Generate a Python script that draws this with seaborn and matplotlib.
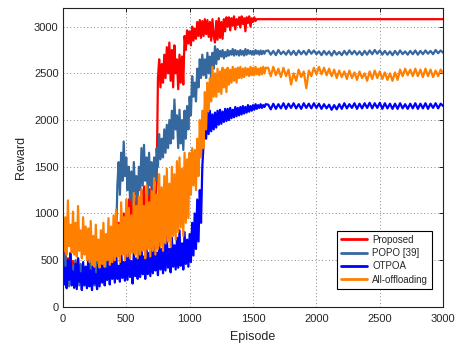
import numpy as np
import pandas as pd
import matplotlib
matplotlib.use("Agg")
import matplotlib.pyplot as plt
import seaborn as sns

# Episode sampling: every 10 episodes up to 1600, every 20 afterwards
episodes = list(range(0, 1610, 10)) + list(range(1620, 3001, 20))

labels = ["Proposed", "POPO [39]", "OTPOA", "All-offloading"]
colors = ["#ff0000", "#35689f", "#0000ff", "#ff8000"]

proposed = [
    560,420,600,380,520,450,580,400,490,360,
    480,330,520,300,450,280,400,250,380,230,
    420,260,370,220,350,240,330,210,360,250,
    450,320,520,380,600,430,680,500,720,560,
    780,600,850,640,900,700,950,720,1000,760,
    1050,800,1150,850,1220,880,1100,820,1180,900,
    1150,880,1250,920,1290,950,1200,900,1260,980,
    1300,1000,1250,1050,1350,2450,2650,2350,2600,2400,
    2700,2450,2780,2500,2830,2420,2750,2350,2800,2500,
    2650,2330,2700,2400,2680,2380,2900,2750,2960,2820,
    2950,2800,3000,2850,2980,2870,3050,2900,3070,2880,
    3060,2900,3080,2920,3070,2890,3050,2850,3080,2900,
    2830,3060,2860,3090,2880,3050,2870,3080,2950,3100,
    3000,3100,2960,3090,3010,3110,2970,3080,3020,3100,
    2990,3110,3030,3090,2950,3100,3040,3110,3000,3090,
    3050,3100,3060,3080,3080,3080,3080,3080,3080,3080,3080,
    3080,3080,3080,3080,3080,3080,3080,3080,3080,3080,
    3080,3080,3080,3080,3080,3080,3080,3080,3080,3080,
    3080,3080,3080,3080,3080,3080,3080,3080,3080,3080,
    3080,3080,3080,3080,3080,3080,3080,3080,3080,3080,
    3080,3080,3080,3080,3080,3080,3080,3080,3080,3080,
    3080,3080,3080,3080,3080,3080,3080,3080,3080,3080,
    3080,3080,3080,3080,3080,3080,3080,3080,3080,3080,
]

popo = [
    650,300,560,250,480,220,520,280,440,200,
    500,260,420,230,460,190,400,250,430,210,
    470,240,520,270,450,230,560,300,480,260,
    540,300,600,330,520,290,580,350,620,380,
    650,420,700,1300,1550,1200,1650,1350,1770,1400,
    1600,1250,1500,1150,1450,1100,1550,1200,1400,1080,
    1500,1250,1700,1300,1735,1350,1600,1200,1650,1300,
    1550,1250,1600,1350,1700,1500,1850,1580,1800,1600,
    1900,1650,1950,1700,2000,1750,2100,1800,2220,1900,
    2050,1700,2110,1750,2000,1680,2100,1800,2150,1900,
    2250,2050,2470,2250,2400,2200,2550,2350,2650,2450,
    2700,2480,2650,2450,2720,2500,2680,2430,2720,2550,
    2790,2600,2760,2650,2740,2680,2750,2660,2730,2680,
    2750,2690,2740,2700,2760,2690,2750,2700,2740,2690,
    2750,2700,2740,2690,2760,2700,2750,2710,2740,2700,
    2740,2700,2750,2710,2740,2700,2745,2705,2740,2710,2740,
    2745,2700,2740,2695,2750,2705,2735,2700,2745,2700,
    2740,2695,2745,2705,2740,2700,2750,2710,2745,2705,
    2735,2695,2740,2700,2735,2690,2740,2700,2730,2695,
    2740,2700,2745,2705,2740,2700,2735,2695,2740,2700,
    2745,2705,2750,2710,2745,2700,2740,2700,2735,2695,
    2740,2700,2745,2705,2735,2700,2740,2705,2745,2700,
    2740,2705,2745,2710,2740,2705,2750,2715,2745,2720,
]

otpoa = [
    540,240,420,200,500,290,570,230,380,210,
    460,190,520,270,360,180,480,230,430,200,
    500,220,390,180,530,250,350,190,450,220,
    480,260,540,230,410,290,580,240,460,300,
    520,260,600,300,440,270,620,310,480,280,
    560,290,640,320,490,250,590,330,520,300,
    600,320,680,350,540,300,640,350,580,330,
    650,360,720,390,580,340,690,400,620,360,
    680,390,760,420,620,370,740,430,660,400,
    740,420,820,440,680,400,800,460,720,430,
    780,480,900,550,1000,620,1150,700,1250,900,
    1500,1750,2050,1800,2080,1850,2100,1880,2060,1900,
    2080,1920,2100,1950,2110,1960,2090,1980,2120,1990,
    2120,2000,2130,2020,2110,2030,2140,2040,2130,2050,
    2140,2060,2150,2070,2140,2080,2160,2090,2150,2100,
    2160,2110,2170,2120,2160,2130,2170,2130,2160,2140,2170,
    2165,2115,2175,2120,2170,2125,2180,2120,2175,2130,
    2180,2125,2170,2120,2180,2130,2175,2125,2180,2130,
    2175,2120,2170,2125,2165,2110,2160,2115,2170,2120,
    2180,2125,2170,2130,2180,2120,2175,2125,2180,2130,
    2185,2125,2180,2130,2185,2120,2180,2125,2175,2120,
    2175,2120,2180,2125,2170,2120,2175,2125,2180,2120,
    2175,2125,2180,2120,2175,2130,2180,2125,2175,2150,
]

all_offloading = [
    1000,600,960,560,1140,650,880,580,1020,560,
    900,540,1080,600,820,520,960,560,860,500,
    840,480,920,450,760,430,880,500,720,420,
    820,460,900,430,780,500,950,450,860,480,
    980,500,1040,540,880,480,1120,560,960,500,
    1150,540,1060,520,980,580,1220,560,1080,520,
    1180,560,1260,600,1080,520,1300,620,1120,540,
    1240,600,1380,560,1200,620,1420,650,1280,600,
    1400,680,1480,700,1320,640,1500,760,1420,720,
    1560,800,1600,850,1480,760,1650,900,1580,950,
    1650,1200,1700,1300,1680,1250,1800,1400,2000,1600,
    2100,1700,2300,1900,2400,2100,2450,2200,2570,2250,
    2500,2250,2550,2300,2520,2280,2560,2350,2540,2300,
    2560,2380,2540,2400,2570,2420,2550,2400,2560,2450,
    2570,2450,2550,2460,2560,2480,2550,2470,2570,2480,
    2560,2480,2570,2490,2550,2480,2560,2490,2570,2500,2560,
    2560,2470,2570,2480,2550,2460,2560,2470,2540,2380,
    2500,2420,2540,2460,2520,2340,2530,2470,2560,2490,
    2570,2490,2560,2480,2550,2470,2540,2450,2530,2460,
    2520,2440,2530,2450,2510,2430,2520,2450,2500,2420,
    2520,2440,2530,2450,2520,2440,2510,2430,2500,2420,
    2510,2430,2540,2470,2550,2480,2540,2470,2550,2470,
    2540,2460,2550,2470,2540,2460,2530,2470,2540,2500,
]

series = [proposed, popo, otpoa, all_offloading]

sns.set_style("white")
plt.rcParams['font.family'] = ['Liberation Sans', 'DejaVu Sans']

fig = plt.figure(figsize=(4.69, 3.46), dpi=100)
ax = fig.add_axes([0.134, 0.113, 0.811, 0.864])

for lab, col, vals in zip(labels, colors, series):
    df = pd.DataFrame({"Episode": episodes, "Reward": vals})
    sns.lineplot(data=df, x="Episode", y="Reward", ax=ax, color=col,
                 linewidth=1.6, estimator=None, sort=False, label=lab)

ax.set_xlim(0, 3000)
ax.set_ylim(0, 3200)
ax.set_xticks(range(0, 3001, 500))
ax.set_yticks(range(0, 3001, 500))
ax.tick_params(direction='in', length=3, width=0.6, labelsize=8,
               top=True, right=True, color='black', labelcolor='#262626')
ax.tick_params(axis='x', pad=5)
ax.tick_params(axis='y', pad=3)
ax.grid(True, linestyle=(0, (1, 2.5)), color='#888888', linewidth=0.7)
for s in ax.spines.values():
    s.set_color('#222222')
    s.set_linewidth(0.8)
ax.set_xlabel("Episode", fontsize=9, labelpad=5, color='#262626')
ax.set_ylabel("Reward", fontsize=9, labelpad=5, color='#262626')

leg = ax.legend(loc='lower right', bbox_to_anchor=(0.971, 0.061),
                borderaxespad=0, fontsize=7, frameon=True, fancybox=False,
                edgecolor='black', framealpha=1, handlelength=2.6,
                labelspacing=0.35, borderpad=0.4, handletextpad=0.6)
leg.get_frame().set_linewidth(0.8)
for h in leg.get_lines():
    h.set_linewidth(2.0)

fig.savefig("out.png", dpi=100)
